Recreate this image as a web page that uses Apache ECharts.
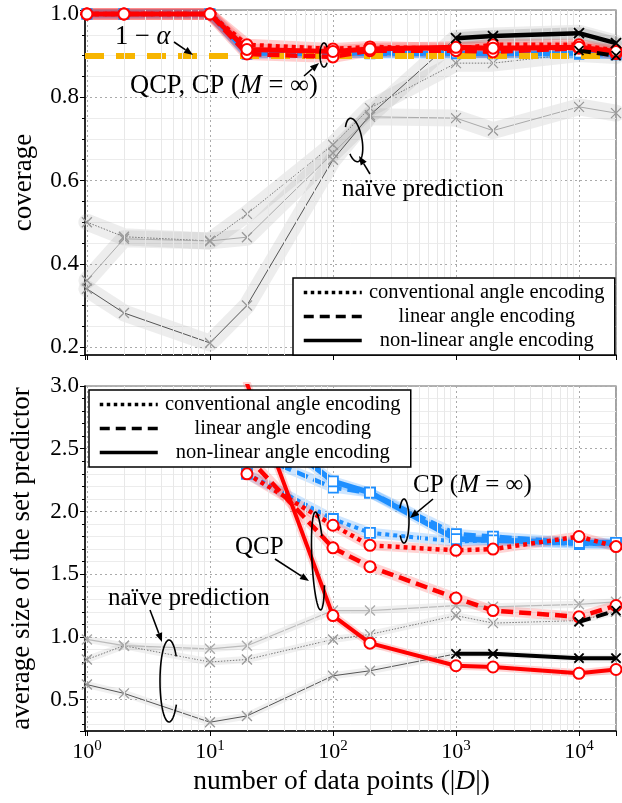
<!DOCTYPE html>
<html><head><meta charset="utf-8">
<script src="https://cdn.jsdelivr.net/npm/echarts@6/dist/echarts.min.js"></script>
<style>html,body{margin:0;padding:0;background:#fff}#c{width:622px;height:803px}</style>
</head><body><div id="c"></div>
<script>
// ---------------- data ----------------
const N = [1, 2, 10, 20, 100, 200, 1000, 2000, 10000, 20000];
const encodings = ['conventional angle encoding', 'linear angle encoding', 'non-linear angle encoding'];
const xTickValues = [1, 10, 100, 1000, 10000];
const covTicks = [0.2, 0.4, 0.6, 0.8, 1.0];
const sizeTicks = [0.5, 1.0, 1.5, 2.0, 2.5, 3.0];
const targetCoverage = 0.9; // 1 - alpha

// coverage (top panel)
const covQcpConv   = [1, 1, 1, 0.926, 0.916, 0.921, 0.916, 0.926, 0.926, 0.912];
const covQcpLin    = [1, 1, 1, 0.904, 0.897, 0.912, 0.912, 0.909, 0.918, 0.905];
const covQcpNonlin = [1, 1, 1, 0.915, 0.910, 0.916, 0.920, 0.918, 0.920, 0.910];
const covCpConv    = [1, 1, 1, 0.905, 0.905, 0.905, 0.906, 0.905, 0.905, 0.902];
const covCpLin     = [1, 1, 1, 0.903, 0.906, 0.904, 0.904, 0.906, 0.903, 0.903];
const covCpNonlin  = [1, 1, 1, 0.906, 0.904, 0.907, 0.905, 0.904, 0.906, 0.904];
const covNaiveConv   = [0.50, 0.465, 0.455, 0.52, 0.686, 0.774, 0.882, 0.882, 0.905, 0.90];
const covNaiveLin    = [0.36, 0.46, 0.455, 0.464, 0.666, 0.753, 0.75, 0.72, 0.777, 0.762];
const covNaiveNonlin = [0.34, 0.282, 0.21, 0.30, 0.65, 0.757, 0.942, 0.947, 0.954, 0.93];
const covBlackLin    = [null, null, null, null, null, null, null, null, 0.912, 0.90];
const covBlackNonlin = [null, null, null, null, null, null, 0.942, 0.947, 0.954, 0.93];

// average set size (bottom panel)
const szQcpConv   = [null, null, null, 2.30, 1.89, 1.73, 1.69, 1.70, 1.80, 1.72];
const szQcpLin    = [null, null, null, 2.44, 1.71, 1.56, 1.31, 1.21, 1.16, 1.25];
const szQcpNonlin = [null, null, null, 3.02, 1.17, 0.95, 0.77, 0.76, 0.71, 0.74];
const szCpConv    = [null, null, null, 2.30, 1.94, 1.83, 1.76, 1.77, 1.74, 1.74];
const szCpLin     = [null, null, null, 2.48, 2.19, 2.15, 1.82, 1.80, 1.75, 1.74];
const szCpNonlin  = [null, null, null, 2.78, 2.24, 2.15, 1.78, 1.77, 1.75, 1.75];
const szNaiveConv   = [0.82, 0.93, 0.80, 0.82, 0.98, 1.02, 1.17, 1.11, 1.13, 1.20];
const szNaiveLin    = [0.98, 0.93, 0.905, 0.93, 1.21, 1.21, 1.25, 1.24, 1.26, 1.28];
const szNaiveNonlin = [0.62, 0.55, 0.32, 0.37, 0.69, 0.73, 0.865, 0.865, 0.83, 0.83];
const szBlackLin    = [null, null, null, null, null, null, null, null, 1.12, 1.21];
const szBlackNonlin = [null, null, null, null, null, null, 0.865, 0.865, 0.83, 0.83];

// ---------------- style ----------------
const F = '"Liberation Serif", "Times New Roman", Times, serif';
const RED = '#ff0000', BLUE = '#1e8fff', ORANGE = '#f7b500';
const DOT = [4, 4], DASH = [12, 6];
const X_SYM = 'path://M0,0L10,10M0,10L10,0';

const chart = echarts.init(document.getElementById('c'), null, {renderer: 'canvas'});
const pairs = arr => N.map((x, i) => [x, arr[i]]);
const series = [];

function band(g, arr, color, width) {
  series.push({type: 'line', xAxisIndex: g, yAxisIndex: g, data: pairs(arr), symbol: 'none',
    silent: true, z: 2, animation: false,
    lineStyle: {color: color, width: width, cap: 'round', join: 'round'}});
}
function line(g, arr, color, width, dash, sym, symSize, symBorder, symBW, z) {
  series.push({type: 'line', xAxisIndex: g, yAxisIndex: g, data: pairs(arr),
    symbol: sym, symbolSize: symSize, showSymbol: true, showAllSymbol: true, z: z, animation: false,
    lineStyle: {color: color, width: width, type: dash, cap: 'butt', join: 'round'},
    itemStyle: {color: sym === X_SYM ? 'transparent' : '#fff', borderColor: symBorder, borderWidth: symBW}});
}

// ---- top panel (grid 0) ----
const gBand = 'rgba(150,150,150,0.17)';
band(0, covNaiveConv, gBand, 17); band(0, covNaiveLin, gBand, 17); band(0, covNaiveNonlin, gBand, 17);
band(0, covCpConv, 'rgba(30,143,255,0.25)', 9); band(0, covCpLin, 'rgba(30,143,255,0.25)', 9); band(0, covCpNonlin, 'rgba(30,143,255,0.25)', 9);
band(0, covQcpConv, 'rgba(255,60,60,0.25)', 12); band(0, covQcpLin, 'rgba(255,60,60,0.25)', 12); band(0, covQcpNonlin, 'rgba(255,60,60,0.25)', 12);
band(0, covBlackNonlin, 'rgba(120,120,120,0.25)', 12);
line(0, covNaiveConv, '#777', 1, [1.5, 1.5], X_SYM, 10, '#999', 1.3, 3);
line(0, covNaiveLin, '#aaa', 1, 'solid', X_SYM, 10, '#999', 1.3, 3);
line(0, covNaiveNonlin, '#555', 1, 'solid', X_SYM, 10, '#999', 1.3, 3);
line(0, covCpConv, BLUE, 4, DOT, 'rect', 9, BLUE, 1.8, 4);
line(0, covCpLin, BLUE, 4, DASH, 'rect', 9, BLUE, 1.8, 4);
line(0, covCpNonlin, BLUE, 4.5, 'solid', 'rect', 9, BLUE, 1.8, 4);
line(0, covQcpConv, RED, 4.5, DOT, 'circle', 11, RED, 2, 5);
line(0, covQcpLin, RED, 4.5, DASH, 'circle', 11, RED, 2, 5);
line(0, covQcpNonlin, RED, 5, 'solid', 'circle', 11, RED, 2, 5);
line(0, covBlackLin, '#000', 4, DASH, X_SYM, 9, '#000', 1.8, 7);
line(0, covBlackNonlin, '#000', 4.5, 'solid', X_SYM, 10, '#000', 1.8, 7);

// ---- bottom panel (grid 1) ----
const gBand2 = 'rgba(150,150,150,0.14)';
band(1, szNaiveConv, gBand2, 7); band(1, szNaiveLin, gBand2, 7); band(1, szNaiveNonlin, gBand2, 7);
band(1, szCpConv, 'rgba(30,143,255,0.22)', 10); band(1, szCpLin, 'rgba(30,143,255,0.22)', 10); band(1, szCpNonlin, 'rgba(30,143,255,0.22)', 10);
band(1, szQcpConv, 'rgba(255,60,60,0.22)', 10); band(1, szQcpLin, 'rgba(255,60,60,0.22)', 10); band(1, szQcpNonlin, 'rgba(255,60,60,0.22)', 8);
line(1, szNaiveConv, '#777', 1, [1.5, 1.5], X_SYM, 10, '#999', 1.3, 3);
line(1, szNaiveLin, '#bbb', 1.2, 'solid', X_SYM, 10, '#aaa', 1.3, 3);
line(1, szNaiveNonlin, '#555', 1, 'solid', X_SYM, 10, '#999', 1.3, 3);
line(1, szCpConv, BLUE, 4, DOT, 'rect', 10, BLUE, 1.8, 4);
line(1, szCpLin, BLUE, 4.5, DASH, 'rect', 10, BLUE, 1.8, 4);
line(1, szCpNonlin, BLUE, 5.5, 'solid', 'rect', 10, BLUE, 1.8, 4);
line(1, szQcpConv, RED, 4.5, DOT, 'circle', 11, RED, 2, 5);
line(1, szQcpLin, RED, 4.5, DASH, 'circle', 11, RED, 2, 5);
line(1, szQcpNonlin, RED, 4, 'solid', 'circle', 11, RED, 2, 5);
line(1, szBlackLin, '#000', 4, DASH, X_SYM, 9, '#000', 1.8, 7);
line(1, szBlackNonlin, '#000', 4, 'solid', X_SYM, 9, '#000', 1.8, 7);

// 1 - alpha reference line
series.push({type: 'line', xAxisIndex: 0, yAxisIndex: 0, data: [], z: 6, silent: true,
  markLine: {silent: true, symbol: ['none', 'none'], label: {show: false}, animation: false,
    lineStyle: {color: ORANGE, width: 6, type: [19, 12], cap: 'butt'},
    data: [{yAxis: targetCoverage}]}});

// minor log grid lines and ticks on the x axes
const minorX = [];
for (let d = 1; d <= 10000; d *= 10) for (let k = 2; k <= 9; k++) if (k * d < 20000) minorX.push(k * d);
[[0, 0.181, 0.0085], [1, 0.25, 0.026]].forEach(([g, ymin, dy]) => {
  series.push({type: 'line', xAxisIndex: g, yAxisIndex: g, data: [], z: 1, silent: true, clip: false,
    markLine: {silent: true, symbol: ['none', 'none'], label: {show: false}, animation: false,
      lineStyle: {color: '#e8e8e8', width: 1, type: 'solid'},
      data: minorX.map(v => ({xAxis: v}))}});
  series.push({type: 'line', xAxisIndex: g, yAxisIndex: g, data: [], z: 1, silent: true, clip: false,
    markLine: {silent: true, symbol: ['none', 'none'], label: {show: false}, animation: false,
      lineStyle: {color: '#000', width: 1, type: 'solid'},
      data: minorX.map(v => [{coord: [v, ymin - dy]}, {coord: [v, ymin]}])}});
});

// legend proxies (line styles only)
encodings.forEach((name, i) => {
  series.push({type: 'line', name: name, xAxisIndex: 0, yAxisIndex: 0, data: [], symbol: 'none',
    color: '#000', lineStyle: {color: '#000', width: 3.5, type: [[3.5, 3.5], [10, 6], 'solid'][i]}});
});

// ---------------- axes ----------------
const xLabelFmt = v => {
  const e = Math.round(Math.log10(v));
  if (!xTickValues.some(t => Math.abs(t - v) < 1e-6 * t)) return '';
  return '{b|10}{s|' + e + '}';
};
const yFmt = ticks => v => ticks.some(t => Math.abs(t - v) < 1e-6) ? v.toFixed(1) : '';

function xAxis(g, showLabels) {
  return {type: 'log', logBase: 10, gridIndex: g, min: 0.965, max: 20000,
    axisLine: {show: true, onZero: false, lineStyle: {color: '#000', width: 1.5}},
    axisTick: {show: true, inside: false, length: 5, lineStyle: {color: '#000', width: 1}},
    splitLine: {show: true, lineStyle: {color: '#aaa', width: 1, type: [2, 3]}},
    axisLabel: {show: showLabels, margin: 8, formatter: xLabelFmt, showMinLabel: true, showMaxLabel: true,
      rich: {b: {fontFamily: F, fontSize: 22, color: '#000'},
             s: {fontFamily: F, fontSize: 15, color: '#000', padding: [0, 0, 12, 0]}}},
    name: showLabels ? '{r|number of data points (|}{i|D}{r||)}' : '',
    nameLocation: 'middle', nameGap: 37,
    nameTextStyle: {padding: [0, 18, 0, 0],
      rich: {r: {fontFamily: F, fontSize: 27.5, color: '#000'},
             i: {fontFamily: F, fontSize: 27.5, fontStyle: 'italic', color: '#000'}}}};
}
function yAxis(g, min, max, step, minorN, ticks, name, gap) {
  return {type: 'value', gridIndex: g, min: min, max: max, minInterval: step, maxInterval: step,
    name: name, nameLocation: 'middle', nameGap: gap,
    nameTextStyle: {fontFamily: F, fontSize: 27, color: '#000'},
    axisLine: {show: true, onZero: false, lineStyle: {color: '#000', width: 1.5}},
    axisTick: {show: true, inside: false, length: 5, lineStyle: {color: '#000'}},
    minorTick: {show: true, splitNumber: minorN, length: 3, lineStyle: {color: '#000'}},
    splitLine: {show: true, lineStyle: {color: '#aaa', width: 1, type: [2, 3]}},
    minorSplitLine: {show: true, lineStyle: {color: '#ececec', width: 1}},
    axisLabel: {margin: 6, fontFamily: F, fontSize: 23, color: '#000', formatter: yFmt(ticks)}};
}

// ---------------- annotations ----------------
function arrow(x1, y1, x2, y2) {
  const a = Math.atan2(y2 - y1, x2 - x1), L = 9, W = 3.5;
  const bx = x2 - L * Math.cos(a), by = y2 - L * Math.sin(a);
  const px = -Math.sin(a) * W, py = Math.cos(a) * W;
  return [
    {type: 'line', silent: true, z: 100, shape: {x1: x1, y1: y1, x2: bx, y2: by}, style: {stroke: '#000', lineWidth: 1.6}},
    {type: 'polygon', silent: true, z: 100, shape: {points: [[x2, y2], [bx + px, by + py], [bx - px, by - py]]}, style: {fill: '#000'}}
  ];
}
function ellArc(cx, cy, rx, ry, rot, gapFrom, gapTo) {
  const pts = [], r = rot * Math.PI / 180;
  for (let a = gapTo; a <= gapFrom + 360; a += 4) {
    const t = a * Math.PI / 180, x = rx * Math.cos(t), y = ry * Math.sin(t);
    pts.push([cx + x * Math.cos(r) - y * Math.sin(r), cy + x * Math.sin(r) + y * Math.cos(r)]);
  }
  return {type: 'polyline', silent: true, z: 100, shape: {points: pts}, style: {stroke: '#000', lineWidth: 1.6, fill: null}};
}
const richT = {r: {fontFamily: F, fontSize: 25, fill: '#000'}, i: {fontFamily: F, fontSize: 25, fontStyle: 'italic', fill: '#000'}};
const richT2 = {r: {fontFamily: F, fontSize: 26.5, fill: '#000'}, i: {fontFamily: F, fontSize: 26.5, fontStyle: 'italic', fill: '#000'}};
function txt(x, y, text, rich) {
  return {type: 'text', silent: true, z: 100, x: x, y: y,
    style: {text: text, rich: rich || richT, fontFamily: F, fontSize: 25, fill: '#000', align: 'left', verticalAlign: 'middle'}};
}
const graphics = [].concat(
  [txt(115, 37, '{r|1 − }{i|α}', richT2)], arrow(174, 42, 193, 55),
  [txt(130, 86, '{r|QCP, CP (}{i|M}{r| = ∞)}', richT2)], arrow(304, 76, 319, 63),
  [ellArc(324, 55, 4, 12, 0, -40, 40)],
  [txt(342, 189, '{r|naïve prediction}')], arrow(370, 174, 359, 156),
  [ellArc(354, 140, 8, 22, -10, 145, 220)],
  [txt(413, 485, '{r|CP (}{i|M}{r| = ∞)}')], arrow(433, 499, 410, 518),
  [ellArc(404, 521, 5, 22, 0, 140, 215)],
  [txt(235, 547, '{r|QCP}')], arrow(275, 559, 309, 581),
  [ellArc(318, 561, 6, 49, -3, -30, 30)],
  [txt(108, 598, '{r|naïve prediction}')], arrow(150, 610, 162, 642),
  [ellArc(169, 681, 9, 41, 0, -35, 35)]
);

function legend(left, top) {
  return {data: encodings, orient: 'vertical', left: left, top: top, padding: [4, 8, 4, 9],
    itemWidth: 58, itemHeight: 14, itemGap: 3, selectedMode: false, z: 50,
    backgroundColor: '#fff', borderColor: '#000', borderWidth: 1.5, borderRadius: 0,
    itemStyle: {opacity: 0}, lineStyle: {width: 3.5},
    formatter: n => '{c|' + n + '}',
    textStyle: {fontFamily: F, fontSize: 20.5, color: '#000',
      rich: {c: {width: 240, align: 'center', fontFamily: F, fontSize: 20.5, lineHeight: 20, color: '#000'}}}};
}

chart.setOption({
  animation: false,
  backgroundColor: '#fff',
  grid: [
    {left: 85, top: 10, width: 531, height: 345, show: true, borderColor: '#666', borderWidth: 1.2, backgroundColor: 'transparent', outerBoundsMode: 'none'},
    {left: 85, top: 386, width: 531, height: 345, show: true, borderColor: '#666', borderWidth: 1.2, backgroundColor: 'transparent', outerBoundsMode: 'none'}
  ],
  xAxis: [xAxis(0, false), xAxis(1, true)],
  yAxis: [
    yAxis(0, 0.181, 1.0096, 0.2, 4, covTicks, 'coverage', 48),
    yAxis(1, 0.25, 3.0, 0.5, 5, sizeTicks, 'average size of the set predictor', 50)
  ],
  legend: [legend(293, 278), legend(89, 390)],
  series: series,
  graphic: graphics
});
</script></body></html>
